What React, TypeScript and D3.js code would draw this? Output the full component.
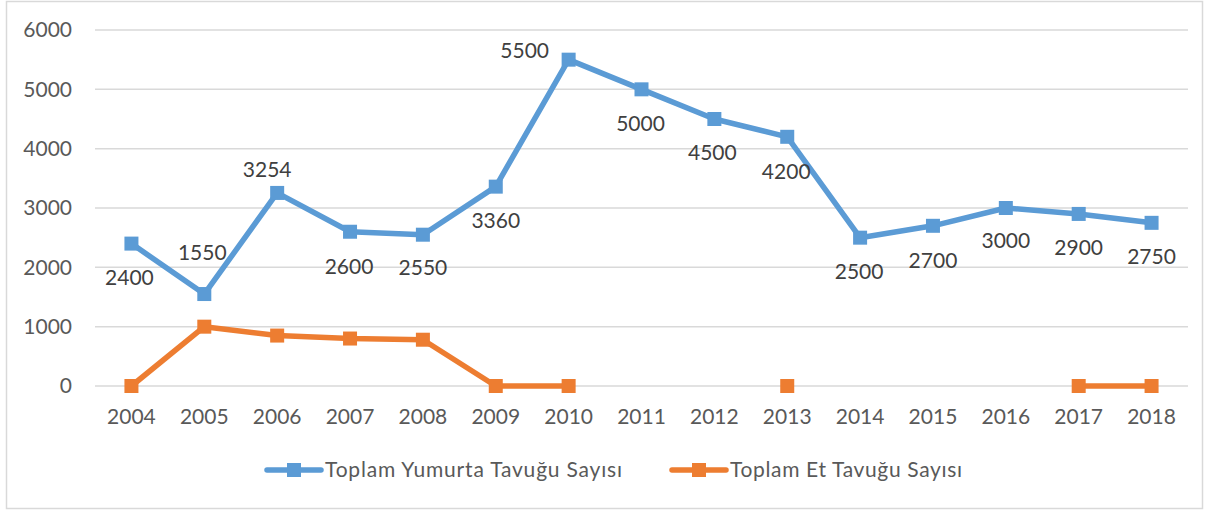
import React, { useEffect, useRef } from "react";
import * as d3 from "d3";

const years = ["2004","2005","2006","2007","2008","2009","2010","2011","2012","2013","2014","2015","2016","2017","2018"];
const yumurta: (number | null)[] = [2400,1550,3254,2600,2550,3360,5500,5000,4500,4200,2500,2700,3000,2900,2750];
const et: (number | null)[] = [0,1000,850,800,780,0,0,null,null,0,null,null,null,0,0];
const yTicks = [0,1000,2000,3000,4000,5000,6000];
const seriesNames = ["Toplam Yumurta Tavuğu Sayısı", "Toplam Et Tavuğu Sayısı"];

// label offsets (styling) for yumurta data labels: [dx, dy]
const labelOffsets: [number, number][] = [
  [-2, 34],[-2, -41],[-10, -23],[-1, 35],[0, 33],[0, 34],[-44, -9],[-1, 34],[-2, 34],[-1, 35],[-1, 34],[0, 35],[0, 33],[0, 34],[0, 34]
];

const W = 1208, H = 511;
const BLUE = "#5B9BD5", ORANGE = "#ED7D31";
const FONT = "Lato, 'Open Sans', sans-serif";
const FS = 21;

export default function App() {
  const ref = useRef<SVGSVGElement>(null);
  useEffect(() => {
    const svg = d3.select(ref.current);
    svg.selectAll("*").remove();

    svg.append("rect").attr("x", 6.5).attr("y", 1.5).attr("width", 1196).attr("height", 507)
      .attr("fill", "white").attr("stroke", "#D9D9D9").attr("stroke-width", 1.5);

    const x = d3.scaleBand<string>().domain(years).range([95, 1188]);
    const cx = (d: string) => (x(d) as number) + x.bandwidth() / 2;
    const y = d3.scaleLinear().domain([0, 6000]).range([386, 30]);

    const grid = svg.append("g");
    yTicks.forEach(t => {
      grid.append("line").attr("x1", 95).attr("x2", 1188).attr("y1", y(t)).attr("y2", y(t))
        .attr("stroke", "#D9D9D9").attr("stroke-width", 1.5);
      svg.append("text").attr("x", 72).attr("y", y(t)).attr("dy", "0.35em").attr("text-anchor", "end")
        .attr("font-family", FONT).attr("font-size", FS).attr("fill", "#595959").text(t);
    });
    years.forEach(yr => {
      svg.append("text").attr("x", cx(yr)).attr("y", 417).attr("dy", "0.35em").attr("text-anchor", "middle")
        .attr("font-family", FONT).attr("font-size", FS).attr("fill", "#595959").text(yr);
    });

    const drawSeries = (vals: (number | null)[], color: string) => {
      const pts = years.map((yr, i) => ({ yr, v: vals[i] }));
      const line = d3.line<{ yr: string; v: number | null }>()
        .defined(d => d.v !== null)
        .x(d => cx(d.yr)).y(d => y(d.v as number));
      svg.append("path").attr("d", line(pts) as string).attr("fill", "none")
        .attr("stroke", color).attr("stroke-width", 5.5).attr("stroke-linejoin", "round");
      pts.filter(d => d.v !== null).forEach(d => {
        svg.append("rect").attr("x", cx(d.yr) - 7).attr("y", y(d.v as number) - 7)
          .attr("width", 14).attr("height", 14).attr("fill", color);
      });
    };
    drawSeries(yumurta, BLUE);
    drawSeries(et, ORANGE);

    yumurta.forEach((v, i) => {
      if (v === null) return;
      const [dx, dy] = labelOffsets[i];
      svg.append("text").attr("x", cx(years[i]) + dx).attr("y", y(v) + dy).attr("dy", "0.35em")
        .attr("text-anchor", "middle").attr("font-family", FONT).attr("font-size", FS)
        .attr("fill", "#404040").text(v);
    });

    const legend = [
      { name: seriesNames[0], color: BLUE, x0: 267, len: 297 },
      { name: seriesNames[1], color: ORANGE, x0: 672, len: 232 },
    ];
    legend.forEach(l => {
      svg.append("line").attr("x1", l.x0).attr("x2", l.x0 + 54).attr("y1", 470).attr("y2", 470)
        .attr("stroke", l.color).attr("stroke-width", 5.5).attr("stroke-linecap", "round");
      svg.append("rect").attr("x", l.x0 + 27 - 7).attr("y", 463).attr("width", 14).attr("height", 14).attr("fill", l.color);
      svg.append("text").attr("x", l.x0 + 58).attr("y", 470).attr("dy", "0.35em")
        .attr("font-family", FONT).attr("font-size", FS).attr("fill", "#595959")
        .attr("textLength", l.len).attr("lengthAdjust", "spacing").text(l.name);
    });
  }, []);
  return (
    <svg ref={ref} width={W} height={H} style={{ position: "absolute", left: 0, top: 0, display: "block" }} />
  );
}
